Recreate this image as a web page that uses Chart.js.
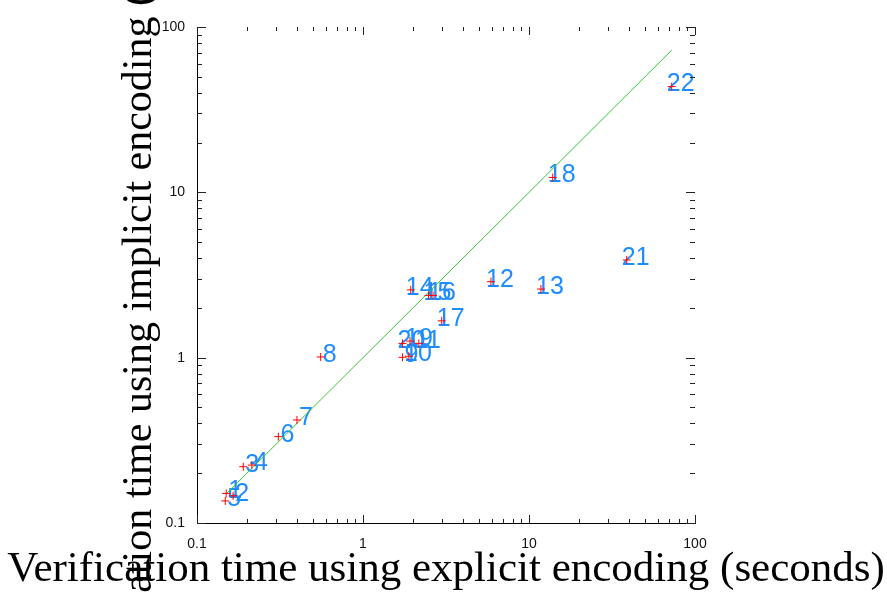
<!DOCTYPE html>
<html>
<head>
<meta charset="utf-8">
<script src="https://cdn.jsdelivr.net/npm/chart.js@4"></script>
<style>
  html, body { margin: 0; padding: 0; background: #fff; }
  #wrap { width: 887px; height: 592px; }
</style>
</head>
<body>
<div id="wrap"><canvas id="chart" width="887" height="592"></canvas></div>
<script>
const caseLabels = ['1', '2', '3', '4', '5', '6', '7', '8', '9', '10', '11',
  '12', '13', '14', '15', '16', '17', '18', '19', '20', '21', '22'];
const explicitTimes = [0.150, 0.165, 0.190, 0.214, 0.148, 0.309, 0.40, 0.556, 1.73, 1.89, 2.17,
  5.9, 11.8, 1.94, 2.48, 2.64, 2.98, 13.9, 1.92, 1.73, 38.8, 72.4];
const implicitTimes = [0.151, 0.146, 0.219, 0.224, 0.136, 0.333, 0.42, 1.01, 1.005, 1.02, 1.22,
  2.88, 2.6, 2.57, 2.38, 2.38, 1.67, 12.3, 1.26, 1.22, 3.9, 43.6];
const diagonal = [0.15, 72.4];
const majorTicks = [0.1, 1, 10, 100];
const tickValues = [0.1, 0.2, 0.3, 0.4, 0.5, 0.6, 0.7, 0.8, 0.9,
  1, 2, 3, 4, 5, 6, 7, 8, 9,
  10, 20, 30, 40, 50, 60, 70, 80, 90, 100];

const xTitle = 'Verification time using explicit encoding (seconds)';
const yTitle = 'Verification time using implicit encoding (seconds)';

const isMajor = (v) => majorTicks.some((m) => Math.abs(m - v) < 1e-9);

// numbers next to each point, drawn under the line and the markers
const pointLabels = {
  id: 'pointLabels',
  beforeDatasetsDraw(chart) {
    const { ctx } = chart;
    const meta = chart.getDatasetMeta(0);
    ctx.save();
    ctx.fillStyle = '#1e8cff';
    ctx.font = '25px "Liberation Sans", Arial, sans-serif';
    ctx.textAlign = 'center';
    ctx.textBaseline = 'middle';
    meta.data.forEach((el, i) => {
      ctx.fillText(caseLabels[i], el.x + 9, el.y - 2);
    });
    ctx.restore();
  },
};

// inward tick marks on all four sides, plus the two big axis titles
const frame = {
  id: 'frame',
  afterDraw(chart) {
    const { ctx, chartArea: a } = chart;
    const xs = chart.scales.x;
    const ys = chart.scales.y;
    ctx.save();
    ctx.strokeStyle = '#222';
    ctx.lineWidth = 1;
    ctx.beginPath();
    tickValues.forEach((v) => {
      const big = isMajor(v);
      const px = Math.round(xs.getPixelForValue(v)) + 0.5;
      const lx = big ? 8 : 4;
      ctx.moveTo(px, a.bottom);
      ctx.lineTo(px, a.bottom - lx);
      ctx.moveTo(px, a.top);
      ctx.lineTo(px, a.top + lx);
      const py = Math.round(ys.getPixelForValue(v)) + 0.5;
      const ly = big ? 9 : 5;
      ctx.moveTo(a.left, py);
      ctx.lineTo(a.left + ly, py);
      ctx.moveTo(a.right, py);
      ctx.lineTo(a.right - ly, py);
    });
    ctx.stroke();

    ctx.fillStyle = '#000';
    ctx.textAlign = 'center';
    ctx.textBaseline = 'alphabetic';
    const cx = (a.left + a.right) / 2;
    const cy = (a.top + a.bottom) / 2;
    ctx.font = '43px "Liberation Serif", "Times New Roman", serif';
    ctx.fillText(xTitle, cx, 581);
    ctx.font = '42px "Liberation Serif", "Times New Roman", serif';
    ctx.translate(151, cy + 1);
    ctx.rotate(-Math.PI / 2);
    ctx.fillText(yTitle, 0, 0);
    ctx.restore();
  },
};

const tickFont = { family: '"Liberation Sans", Arial, sans-serif', size: 14 };

new Chart(document.getElementById('chart'), {
  data: {
    datasets: [
      {
        type: 'scatter',
        data: explicitTimes.map((x, i) => ({ x, y: implicitTimes[i] })),
        pointStyle: 'cross',
        pointRadius: 4,
        borderColor: '#ff0000',
        borderWidth: 1,
        clip: false,
      },
      {
        type: 'line',
        data: diagonal.map((v) => ({ x: v, y: v })),
        borderColor: '#33c633',
        borderWidth: 1,
        pointRadius: 0,
        fill: false,
      },
    ],
  },
  options: {
    responsive: false,
    animation: false,
    layout: { padding: { top: 27, right: 192, left: 0, bottom: 0 } },
    plugins: {
      legend: { display: false },
      tooltip: { enabled: false },
    },
    scales: {
      x: {
        type: 'logarithmic',
        min: 0.1,
        max: 100,
        afterBuildTicks: (s) => { s.ticks = tickValues.map((value) => ({ value })); },
        afterFit: (s) => { s.height = 69; },
        grid: { display: false, drawTicks: false },
        border: { display: true, color: '#000', width: 1 },
        ticks: {
          autoSkip: false,
          maxRotation: 0,
          padding: 13,
          color: '#111',
          font: tickFont,
          callback: (v) => (isMajor(v) ? String(v) : ''),
        },
      },
      y: {
        type: 'logarithmic',
        min: 0.1,
        max: 100,
        afterBuildTicks: (s) => { s.ticks = tickValues.map((value) => ({ value })); },
        afterFit: (s) => { s.width = 197; },
        grid: { display: false, drawTicks: false },
        border: { display: true, color: '#000', width: 1 },
        ticks: {
          autoSkip: false,
          padding: 12,
          color: '#111',
          font: tickFont,
          callback: (v) => (isMajor(v) ? String(v) : ''),
        },
      },
    },
  },
  plugins: [pointLabels, frame],
});
</script>
</body>
</html>
